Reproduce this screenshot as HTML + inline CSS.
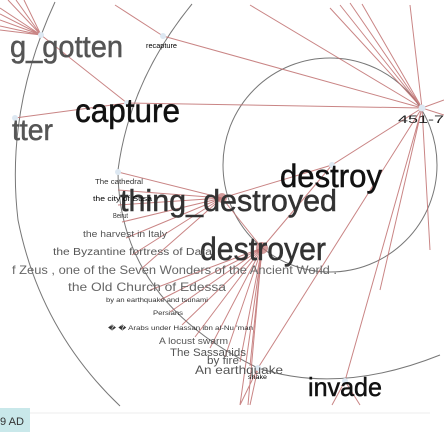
<!DOCTYPE html>
<html><head><meta charset="utf-8"><style>
html,body{margin:0;padding:0;background:#fff;width:444px;height:435px;overflow:hidden}
svg{display:block}
text{font-family:"Liberation Sans",sans-serif}
</style></head><body>
<svg width="444" height="435" viewBox="0 0 444 435">
<g fill="none" stroke="#777" stroke-width="1">
<path d="M55,2 Q5,110 18,220 Q40,330 120,406"/>
<path d="M192,4 Q130,80 118,170 Q118,300 258,368 Q340,395 440,355"/>
<circle cx="330" cy="165" r="107"/>
</g>
<g stroke="#c07070" stroke-width="1" fill="none" opacity="0.85">
<path d="M41,35 L0,8 M41,35 L0,14 M41,35 L0,20 M41,35 L0,26 M41,35 L0,30 M41,35 L8,0 M41,35 L16,0 M41,35 L24,0"/>
<path d="M41,35 L127,103 M15,118 L127,103 M127,103 L422,108"/>
<path d="M163,36 L115,5 M163,36 L422,108 M422,108 L250,5 M422,108 L330,8 M422,108 L340,5 M422,108 L350,3 M422,108 L362,4 M422,108 L410,5 M422,108 L444,100 M422,108 L444,115"/>
<path d="M222,198 L118,172 M222,198 L118,190 M222,198 L118,205 M222,198 L122,222 M222,198 L126,238 M222,198 L132,255 M222,198 L140,270 M222,198 L332,165 L422,108"/>
<path d="M262,248 L222,198 M262,248 L150,290 M262,248 L160,300 M262,248 L170,312 M262,248 L182,325 M262,248 L195,337 M262,248 L210,348 M262,248 L225,357 M262,248 L240,362 M262,248 L250,366 M262,248 L332,165"/>
<path d="M262,248 L240,405 M262,248 L248,405 M422,108 L258,368 L240,405 M422,108 L345,381 M345,381 L332,405 M345,381 L360,405 M422,108 L380,290 M422,108 L430,250 M258,368 L250,405"/>
</g>
<g fill="#dde8f2">
<circle cx="41" cy="35" r="3"/><circle cx="163" cy="36" r="3"/><circle cx="127" cy="103" r="3"/><circle cx="15" cy="118" r="3"/><circle cx="422" cy="108" r="3.5"/><circle cx="332" cy="165" r="3"/><circle cx="118" cy="172" r="3"/><circle cx="345" cy="381" r="3"/><circle cx="258" cy="368" r="3"/>
</g>
<circle cx="222" cy="198" r="5" fill="#c07070" opacity="0.7"/>
<circle cx="262" cy="248" r="6" fill="#c07070" opacity="0.7"/>
<g stroke-width="0.5">
<text x="10" y="57" font-size="31" fill="#555" stroke="#555" textLength="113" lengthAdjust="spacingAndGlyphs">g_gotten</text>
<text x="75" y="122" font-size="33" fill="#111" stroke="#111" textLength="105" lengthAdjust="spacingAndGlyphs">capture</text>
<text x="12" y="140" font-size="30" fill="#555" stroke="#555" textLength="41" lengthAdjust="spacingAndGlyphs">tter</text>
<text x="280" y="187" font-size="32" fill="#111" stroke="#111" textLength="102" lengthAdjust="spacingAndGlyphs">destroy</text>
<text x="120" y="211" font-size="31" fill="#333" stroke="#333" textLength="217" lengthAdjust="spacingAndGlyphs">thing_destroyed</text>
<text x="200" y="260" font-size="32" fill="#333" stroke="#333" textLength="126" lengthAdjust="spacingAndGlyphs">destroyer</text>
<text x="308" y="396" font-size="26" fill="#111" stroke="#111" textLength="74" lengthAdjust="spacingAndGlyphs">invade</text>
</g>
<text x="146" y="48" font-size="7" fill="#000" textLength="31" lengthAdjust="spacingAndGlyphs">recapture</text>
<text x="398" y="123" font-size="11" fill="#222" textLength="46" lengthAdjust="spacingAndGlyphs">451-7</text>
<text x="95" y="184" font-size="7" fill="#333" textLength="48" lengthAdjust="spacingAndGlyphs">The cathedral</text>
<text x="93" y="201" font-size="7" fill="#000" textLength="59" lengthAdjust="spacingAndGlyphs">the city of Susa</text>
<text x="113" y="218" font-size="7" fill="#333" textLength="15" lengthAdjust="spacingAndGlyphs">Beirut</text>
<text x="83" y="237" font-size="9" fill="#555" textLength="84" lengthAdjust="spacingAndGlyphs">the harvest in Italy</text>
<text x="53" y="255" font-size="10" fill="#555" textLength="159" lengthAdjust="spacingAndGlyphs">the Byzantine fortress of Dara</text>
<text x="12" y="274" font-size="12" fill="#666" textLength="325" lengthAdjust="spacingAndGlyphs">f Zeus , one of the Seven Wonders of the Ancient World .</text>
<text x="68" y="291" font-size="12" fill="#666" textLength="158" lengthAdjust="spacingAndGlyphs">the Old Church of Edessa</text>
<text x="106" y="302" font-size="6" fill="#333" textLength="102" lengthAdjust="spacingAndGlyphs">by an earthquake and tsunami</text>
<text x="153" y="315" font-size="6" fill="#333" textLength="30" lengthAdjust="spacingAndGlyphs">Persians</text>
<text x="108" y="330" font-size="6" fill="#333" textLength="145" lengthAdjust="spacingAndGlyphs">� � Arabs under Hassan ibn al-Nu 'man</text>
<text x="159" y="344" font-size="9" fill="#555" textLength="69" lengthAdjust="spacingAndGlyphs">A locust swarm</text>
<text x="170" y="356" font-size="11" fill="#555" textLength="76" lengthAdjust="spacingAndGlyphs">The Sassanids</text>
<text x="207" y="364" font-size="11" fill="#555" textLength="32" lengthAdjust="spacingAndGlyphs">by fire</text>
<text x="195" y="374" font-size="12" fill="#555" textLength="88" lengthAdjust="spacingAndGlyphs">An earthquake</text>
<text x="248" y="379" font-size="6" fill="#000" textLength="19" lengthAdjust="spacingAndGlyphs">snake</text>
<line x1="0" y1="413" x2="430" y2="413" stroke="#eee" stroke-width="1"/>
<rect x="0" y="408" width="30" height="24" fill="#c9e8ea"/>
<text x="0" y="425" font-size="11" fill="#333" textLength="24" lengthAdjust="spacingAndGlyphs">9 AD</text>
</svg>
</body></html>
